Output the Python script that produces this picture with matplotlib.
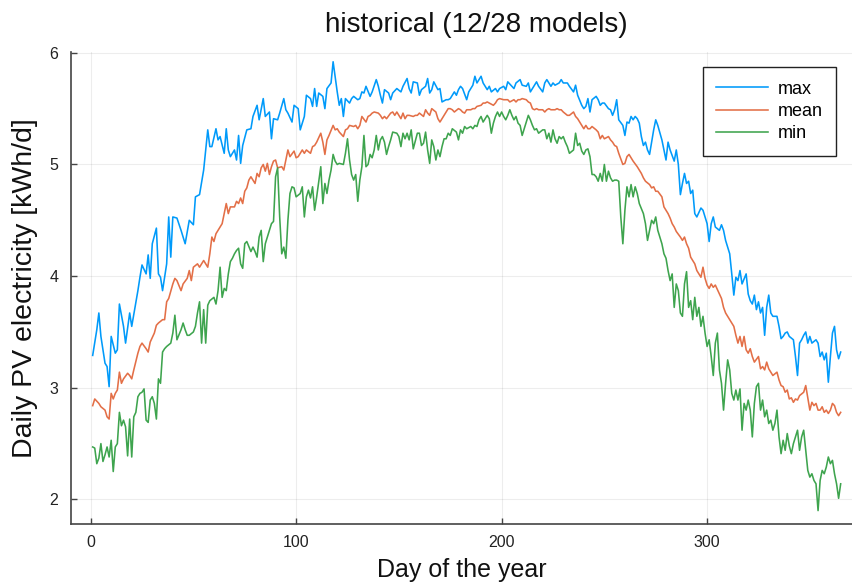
import matplotlib
matplotlib.use("Agg")
import matplotlib.pyplot as plt

plt.rcParams['font.family'] = ['Liberation Sans', 'DejaVu Sans']

title = "historical (12/28 models)"
xlabel = "Day of the year"
ylabel = "Daily PV electricity [kWh/d]"
series_names = ["max", "mean", "min"]
colors = ["#009AFA", "#E36F47", "#3EA44E"]
xticks = [0, 100, 200, 300]
yticks = [2, 3, 4, 5, 6]

max_days = [1, 3, 4, 5, 7, 8, 9, 10, 12, 13, 14, 16, 17, 19, 20, 23, 24, 25, 27, 28, 29, 30, 32, 33, 34, 35, 37, 38, 39, 40, 42, 44, 46, 48, 50, 51, 53, 55, 57, 58, 59, 61, 62, 63, 65, 66, 67, 68, 70, 71, 72, 73, 74, 76, 78, 79, 81, 82, 84, 85, 87, 88, 89, 91, 92, 94, 95, 96, 98, 99, 101, 102, 104, 105, 107, 108, 109, 110, 111, 113, 114, 115, 117, 118, 120, 121, 122, 123, 124, 126, 127, 128, 130, 131, 132, 133, 134, 136, 137, 139, 140, 141, 142, 143, 145, 146, 147, 149, 151, 152, 154, 155, 156, 157, 159, 160, 161, 163, 164, 165, 166, 167, 169, 170, 171, 173, 174, 175, 177, 178, 179, 180, 181, 183, 184, 186, 187, 188, 190, 191, 193, 194, 195, 197, 198, 199, 201, 202, 203, 205, 206, 207, 209, 210, 212, 213, 214, 216, 217, 218, 220, 221, 222, 224, 225, 226, 228, 229, 230, 232, 233, 235, 236, 237, 239, 240, 241, 242, 243, 244, 246, 247, 248, 249, 250, 252, 253, 254, 255, 256, 257, 259, 260, 261, 262, 263, 264, 265, 266, 267, 268, 269, 270, 271, 272, 274, 275, 276, 278, 279, 280, 281, 282, 284, 285, 286, 287, 288, 289, 290, 291, 292, 293, 294, 295, 297, 298, 299, 300, 301, 302, 303, 304, 306, 307, 308, 309, 311, 312, 313, 314, 315, 316, 317, 319, 320, 321, 322, 323, 324, 325, 326, 327, 328, 329, 330, 331, 332, 334, 335, 336, 337, 338, 339, 340, 342, 343, 344, 345, 346, 347, 348, 349, 350, 351, 353, 354, 355, 356, 357, 358, 359, 360, 361, 362, 363, 364, 365]
max_vals = [3.29, 3.52, 3.67, 3.46, 3.22, 3.19, 3.01, 3.46, 3.31, 3.34, 3.75, 3.55, 3.40, 3.67, 3.55, 3.87, 3.99, 4.10, 4.02, 4.19, 3.98, 4.29, 4.43, 4.02, 3.99, 3.87, 4.11, 4.53, 4.17, 4.53, 4.52, 4.41, 4.29, 4.50, 4.46, 4.71, 4.73, 4.95, 5.31, 5.16, 5.16, 5.32, 5.22, 5.25, 5.10, 5.32, 5.13, 5.07, 5.13, 5.04, 5.26, 5.01, 5.17, 5.31, 5.32, 5.43, 5.53, 5.40, 5.59, 5.43, 5.47, 5.23, 5.41, 5.40, 5.46, 5.59, 5.49, 5.46, 5.38, 5.53, 5.50, 5.31, 5.43, 5.62, 5.59, 5.52, 5.68, 5.52, 5.64, 5.61, 5.50, 5.68, 5.73, 5.92, 5.65, 5.53, 5.59, 5.43, 5.59, 5.55, 5.59, 5.61, 5.58, 5.59, 5.65, 5.64, 5.70, 5.61, 5.65, 5.76, 5.70, 5.62, 5.55, 5.67, 5.64, 5.58, 5.64, 5.68, 5.65, 5.70, 5.77, 5.68, 5.64, 5.74, 5.73, 5.62, 5.67, 5.70, 5.77, 5.64, 5.67, 5.74, 5.67, 5.68, 5.56, 5.58, 5.58, 5.59, 5.65, 5.62, 5.67, 5.70, 5.68, 5.58, 5.65, 5.71, 5.79, 5.73, 5.79, 5.73, 5.67, 5.70, 5.65, 5.68, 5.65, 5.68, 5.70, 5.67, 5.74, 5.70, 5.68, 5.73, 5.76, 5.71, 5.70, 5.73, 5.65, 5.71, 5.74, 5.70, 5.65, 5.73, 5.76, 5.70, 5.73, 5.71, 5.73, 5.76, 5.73, 5.73, 5.70, 5.65, 5.71, 5.62, 5.53, 5.50, 5.52, 5.59, 5.47, 5.58, 5.61, 5.58, 5.53, 5.55, 5.55, 5.50, 5.49, 5.44, 5.49, 5.58, 5.40, 5.35, 5.26, 5.38, 5.37, 5.43, 5.40, 5.43, 5.41, 5.37, 5.25, 5.17, 5.20, 5.13, 5.09, 5.31, 5.40, 5.35, 5.22, 5.13, 5.04, 5.20, 5.13, 5.03, 5.13, 5.00, 4.73, 4.83, 4.92, 4.83, 4.85, 4.74, 4.77, 4.56, 4.53, 4.61, 4.59, 4.53, 4.47, 4.31, 4.47, 4.53, 4.44, 4.41, 4.46, 4.41, 4.32, 4.20, 4.02, 3.83, 3.99, 3.96, 4.05, 3.93, 4.02, 3.84, 3.78, 3.75, 3.83, 3.70, 3.77, 3.67, 3.72, 3.47, 3.72, 3.83, 3.67, 3.64, 3.64, 3.55, 3.44, 3.46, 3.49, 3.50, 3.46, 3.43, 3.28, 3.11, 3.40, 3.43, 3.47, 3.50, 3.40, 3.46, 3.40, 3.43, 3.40, 3.28, 3.32, 3.25, 3.31, 3.05, 3.28, 3.49, 3.55, 3.34, 3.26, 3.32]

mean_days = [1, 2, 4, 5, 7, 8, 9, 10, 11, 12, 13, 14, 15, 16, 18, 19, 20, 21, 23, 24, 25, 27, 28, 29, 31, 32, 33, 35, 36, 37, 38, 40, 41, 42, 44, 45, 47, 48, 49, 50, 52, 53, 55, 56, 57, 58, 59, 60, 61, 63, 64, 65, 66, 67, 68, 70, 71, 72, 73, 74, 75, 76, 77, 78, 80, 81, 82, 83, 84, 85, 86, 87, 88, 89, 90, 91, 93, 94, 95, 96, 97, 99, 100, 101, 103, 104, 105, 107, 108, 109, 110, 112, 113, 114, 115, 116, 118, 119, 120, 121, 123, 124, 125, 126, 128, 129, 130, 131, 132, 134, 135, 136, 137, 138, 140, 141, 142, 143, 144, 146, 147, 148, 149, 151, 152, 153, 154, 155, 157, 158, 159, 160, 162, 163, 164, 165, 166, 168, 169, 170, 171, 172, 174, 175, 176, 177, 179, 180, 181, 182, 183, 185, 186, 187, 188, 190, 191, 192, 193, 194, 196, 197, 198, 199, 201, 202, 203, 204, 206, 207, 208, 209, 210, 212, 213, 214, 215, 216, 217, 218, 220, 221, 222, 223, 224, 226, 227, 228, 229, 230, 232, 233, 235, 236, 237, 238, 240, 241, 242, 243, 244, 246, 247, 248, 249, 250, 252, 253, 254, 255, 256, 257, 259, 260, 261, 262, 263, 264, 266, 267, 268, 269, 270, 272, 273, 274, 275, 276, 278, 279, 280, 281, 282, 283, 284, 285, 287, 288, 289, 290, 291, 292, 294, 295, 296, 297, 298, 299, 300, 301, 302, 303, 304, 306, 307, 308, 309, 310, 312, 313, 314, 315, 316, 317, 318, 319, 320, 321, 322, 323, 325, 326, 327, 328, 329, 330, 331, 332, 334, 335, 336, 337, 338, 339, 340, 341, 342, 343, 344, 345, 347, 348, 349, 350, 351, 352, 353, 354, 355, 356, 357, 358, 359, 360, 361, 362, 363, 364, 365]
mean_vals = [2.84, 2.90, 2.86, 2.83, 2.80, 2.74, 2.72, 2.95, 2.90, 2.95, 2.98, 3.14, 3.04, 3.08, 3.13, 3.11, 3.08, 3.16, 3.31, 3.37, 3.40, 3.35, 3.32, 3.41, 3.49, 3.56, 3.58, 3.61, 3.61, 3.77, 3.80, 3.93, 3.98, 3.96, 3.87, 3.93, 3.98, 4.05, 3.96, 4.08, 4.11, 4.08, 4.14, 4.11, 4.08, 4.20, 4.35, 4.31, 4.38, 4.44, 4.47, 4.56, 4.65, 4.56, 4.62, 4.62, 4.67, 4.65, 4.70, 4.65, 4.76, 4.79, 4.86, 4.89, 4.83, 4.92, 4.89, 4.97, 5.00, 4.94, 5.01, 4.91, 4.98, 5.03, 5.04, 4.97, 4.98, 4.95, 5.04, 5.13, 5.07, 5.12, 5.06, 5.07, 5.13, 5.10, 5.13, 5.10, 5.16, 5.17, 5.20, 5.28, 5.20, 5.09, 5.22, 5.26, 5.35, 5.31, 5.32, 5.29, 5.25, 5.31, 5.32, 5.35, 5.34, 5.35, 5.32, 5.35, 5.43, 5.38, 5.43, 5.44, 5.46, 5.47, 5.46, 5.44, 5.41, 5.43, 5.41, 5.46, 5.47, 5.44, 5.47, 5.41, 5.46, 5.41, 5.44, 5.44, 5.43, 5.44, 5.44, 5.46, 5.43, 5.49, 5.46, 5.44, 5.50, 5.47, 5.41, 5.38, 5.41, 5.44, 5.50, 5.50, 5.49, 5.47, 5.50, 5.49, 5.47, 5.46, 5.49, 5.49, 5.50, 5.50, 5.52, 5.53, 5.55, 5.55, 5.56, 5.55, 5.53, 5.55, 5.58, 5.59, 5.58, 5.58, 5.58, 5.56, 5.58, 5.56, 5.58, 5.58, 5.59, 5.58, 5.56, 5.55, 5.50, 5.49, 5.50, 5.49, 5.49, 5.47, 5.49, 5.50, 5.49, 5.49, 5.50, 5.49, 5.49, 5.47, 5.44, 5.44, 5.47, 5.43, 5.41, 5.38, 5.32, 5.35, 5.32, 5.32, 5.34, 5.31, 5.29, 5.23, 5.26, 5.23, 5.25, 5.22, 5.20, 5.17, 5.16, 5.10, 5.00, 5.01, 5.07, 5.09, 5.06, 5.03, 4.98, 4.95, 4.92, 4.88, 4.85, 4.82, 4.79, 4.80, 4.76, 4.76, 4.71, 4.62, 4.59, 4.56, 4.52, 4.47, 4.44, 4.40, 4.35, 4.32, 4.35, 4.29, 4.25, 4.17, 4.11, 4.05, 4.02, 3.99, 4.08, 3.98, 3.92, 3.89, 3.93, 3.90, 3.92, 3.84, 3.80, 3.72, 3.67, 3.64, 3.58, 3.55, 3.47, 3.40, 3.46, 3.37, 3.46, 3.34, 3.31, 3.35, 3.28, 3.23, 3.28, 3.17, 3.19, 3.16, 3.23, 3.17, 3.14, 3.11, 3.14, 3.07, 3.02, 3.01, 2.96, 2.98, 2.90, 2.91, 2.87, 2.90, 2.89, 2.93, 2.96, 3.02, 2.91, 2.80, 2.87, 2.84, 2.86, 2.80, 2.80, 2.83, 2.78, 2.80, 2.77, 2.80, 2.86, 2.84, 2.78, 2.75, 2.78]

min_days = [1, 2, 3, 4, 5, 6, 7, 8, 9, 10, 11, 12, 13, 14, 15, 16, 17, 18, 19, 20, 21, 22, 23, 24, 25, 26, 27, 28, 29, 30, 31, 32, 33, 34, 35, 36, 37, 39, 40, 41, 42, 44, 45, 46, 47, 48, 50, 51, 52, 53, 54, 55, 56, 57, 58, 60, 61, 62, 63, 64, 65, 66, 67, 68, 69, 70, 71, 72, 73, 74, 75, 76, 78, 79, 80, 81, 82, 83, 84, 85, 86, 88, 89, 90, 91, 92, 93, 94, 95, 96, 97, 98, 99, 100, 102, 103, 104, 105, 106, 107, 108, 109, 110, 112, 113, 114, 115, 116, 117, 118, 119, 120, 121, 123, 124, 125, 126, 127, 128, 129, 130, 131, 132, 133, 134, 135, 136, 137, 138, 139, 140, 141, 142, 143, 144, 145, 146, 147, 149, 150, 151, 152, 153, 154, 155, 156, 157, 159, 160, 161, 162, 163, 164, 165, 166, 167, 168, 169, 170, 171, 172, 173, 174, 175, 176, 178, 179, 180, 181, 182, 183, 185, 186, 187, 188, 189, 190, 191, 193, 194, 195, 196, 197, 198, 199, 200, 201, 202, 203, 204, 205, 206, 207, 208, 209, 210, 212, 213, 214, 215, 216, 217, 218, 220, 221, 222, 223, 224, 225, 226, 227, 228, 229, 230, 231, 232, 233, 235, 236, 237, 238, 239, 240, 241, 242, 243, 244, 245, 246, 247, 248, 249, 250, 251, 252, 253, 254, 255, 256, 257, 258, 259, 260, 261, 262, 263, 264, 265, 266, 267, 269, 270, 271, 272, 273, 274, 275, 276, 278, 279, 280, 281, 282, 283, 284, 285, 286, 287, 288, 289, 290, 291, 292, 293, 294, 295, 296, 297, 298, 299, 300, 301, 302, 303, 304, 305, 306, 307, 308, 309, 310, 311, 312, 313, 314, 315, 316, 317, 318, 319, 320, 321, 322, 323, 324, 325, 326, 327, 328, 329, 330, 331, 332, 333, 334, 335, 336, 337, 338, 339, 340, 341, 342, 343, 344, 345, 346, 347, 348, 349, 350, 351, 352, 353, 354, 355, 356, 357, 358, 359, 360, 361, 362, 363, 364, 365]
min_vals = [2.47, 2.46, 2.32, 2.37, 2.50, 2.34, 2.40, 2.47, 2.38, 2.53, 2.25, 2.47, 2.50, 2.78, 2.66, 2.71, 2.65, 2.39, 2.72, 2.38, 2.74, 2.78, 2.92, 2.95, 2.96, 2.99, 2.71, 2.69, 2.89, 2.92, 2.86, 2.72, 3.08, 3.04, 3.32, 3.35, 3.37, 3.40, 3.49, 3.65, 3.43, 3.52, 3.58, 3.52, 3.47, 3.47, 3.50, 3.55, 3.67, 3.77, 3.40, 3.70, 3.40, 3.74, 3.78, 3.81, 3.75, 3.87, 4.08, 3.81, 3.89, 3.87, 4.02, 4.13, 4.16, 4.20, 4.23, 4.25, 4.11, 4.07, 4.29, 4.31, 4.22, 4.26, 4.22, 4.17, 4.35, 4.41, 4.13, 4.29, 4.35, 4.47, 4.49, 4.89, 4.97, 4.53, 4.20, 4.26, 4.16, 4.50, 4.74, 4.80, 4.79, 4.71, 4.74, 4.80, 4.53, 4.71, 4.77, 4.70, 4.80, 4.59, 4.71, 4.98, 4.65, 4.83, 4.74, 4.86, 4.95, 5.09, 5.03, 5.00, 5.01, 5.00, 5.10, 5.23, 5.04, 4.91, 4.86, 4.91, 4.67, 4.86, 4.98, 5.26, 4.98, 5.00, 5.09, 5.06, 5.13, 5.26, 5.13, 5.22, 5.25, 5.20, 5.09, 5.16, 5.22, 5.29, 5.28, 5.25, 5.16, 5.28, 5.23, 5.28, 5.22, 5.31, 5.14, 5.28, 5.28, 5.17, 5.19, 5.29, 5.13, 5.01, 5.22, 5.16, 5.04, 5.13, 5.07, 5.16, 5.23, 5.23, 5.28, 5.26, 5.32, 5.29, 5.22, 5.31, 5.28, 5.34, 5.32, 5.34, 5.32, 5.35, 5.34, 5.40, 5.43, 5.38, 5.44, 5.41, 5.28, 5.37, 5.43, 5.47, 5.43, 5.47, 5.43, 5.40, 5.44, 5.49, 5.44, 5.40, 5.43, 5.37, 5.35, 5.26, 5.38, 5.44, 5.40, 5.35, 5.31, 5.32, 5.28, 5.31, 5.31, 5.23, 5.28, 5.20, 5.31, 5.23, 5.19, 5.25, 5.23, 5.25, 5.20, 5.16, 5.10, 5.13, 5.28, 5.17, 5.19, 5.12, 5.09, 5.13, 5.14, 5.07, 4.91, 4.91, 4.89, 4.85, 4.92, 4.85, 5.00, 4.85, 4.94, 4.88, 4.85, 4.86, 4.86, 4.85, 4.53, 4.29, 4.59, 4.80, 4.71, 4.82, 4.71, 4.80, 4.74, 4.65, 4.56, 4.47, 4.32, 4.41, 4.50, 4.47, 4.53, 4.41, 4.29, 4.20, 4.16, 4.05, 3.96, 4.02, 3.72, 3.93, 3.87, 3.67, 3.64, 3.93, 4.04, 3.72, 3.78, 3.61, 3.81, 3.64, 3.72, 3.55, 3.64, 3.49, 3.37, 3.43, 3.28, 3.11, 3.40, 3.49, 3.16, 3.04, 2.80, 3.04, 3.25, 3.16, 2.95, 2.89, 2.98, 2.89, 2.99, 2.62, 2.86, 2.80, 2.89, 2.80, 2.56, 2.86, 3.01, 3.04, 2.80, 2.89, 2.74, 2.80, 2.68, 2.71, 2.62, 2.68, 2.80, 2.56, 2.41, 2.53, 2.44, 2.59, 2.48, 2.41, 2.50, 2.56, 2.62, 2.44, 2.56, 2.62, 2.44, 2.26, 2.20, 2.23, 2.17, 2.14, 1.90, 2.17, 2.26, 2.23, 2.29, 2.38, 2.32, 2.35, 2.23, 2.14, 2.01, 2.14]

W, H = 853, 586
fig = plt.figure(figsize=(W / 100, H / 100), dpi=100)
ax = fig.add_axes([70.7 / W, 1 - 524 / H, 1 - 70.7 / W, (524 - 51.7) / H])

for days, vals, name, c in zip([max_days, mean_days, min_days],
                               [max_vals, mean_vals, min_vals],
                               series_names, colors):
    ax.plot(days, vals, color=c, lw=1.15, label=name)

ax.set_xlim(-9.7, 371)
ax.set_ylim(1.78, 6.01)
ax.set_xticks(xticks)
ax.set_yticks(yticks)
ax.grid(True, color="#000000", alpha=0.07, lw=0.8)
ax.set_axisbelow(True)
for s in ["top", "right"]:
    ax.spines[s].set_visible(False)
for s in ["left", "bottom"]:
    ax.spines[s].set_color("#444444")
    ax.spines[s].set_linewidth(1.2)
ax.tick_params(direction="in", length=4, width=1, color="#444444",
               labelsize=11.5, labelcolor="#222222")
ax.tick_params(axis="y", pad=9)
ax.tick_params(axis="x", pad=8)

ax.set_title(title, fontsize=20, pad=14, color="#111111", x=0.518)
ax.set_xlabel(xlabel, fontsize=18, color="#111111", labelpad=6)
ax.set_ylabel(ylabel, fontsize=20.5, color="#111111", labelpad=8)

leg = ax.legend(loc="upper right", bbox_to_anchor=(836 / W, 1 - 67 / H),
                bbox_transform=fig.transFigure, fontsize=13, frameon=True,
                fancybox=False, edgecolor="#222222", framealpha=1,
                handlelength=2.9, borderpad=0.75, labelspacing=0.3,
                handletextpad=0.5, borderaxespad=0)
leg.get_frame().set_linewidth(1.0)

fig.savefig("out.png", dpi=100)
